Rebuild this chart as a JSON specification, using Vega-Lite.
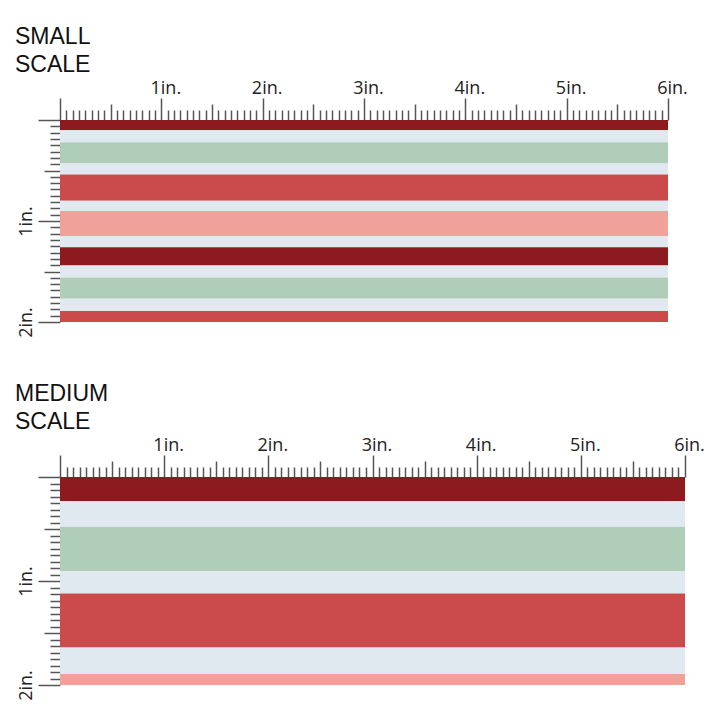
{
  "$schema": "https://vega.github.io/schema/vega-lite/v6.json",
  "background": "white",
  "padding": {"left": 15, "top": 26, "right": 5, "bottom": 5},
  "spacing": 45,
  "config": {
    "view": {"stroke": null},
    "title": {"anchor": "start", "frame": "bounds", "font": "Liberation Sans", "fontSize": 23, "fontWeight": "normal", "lineHeight": 28, "offset": 2, "dx": -2, "color": "#111"},
    "axis": {"domain": false, "grid": false, "title": null, "tickColor": "#555", "tickWidth": 1.5,
      "tickSize": {"condition": [{"test": "datum.value % 1 === 0", "value": 22}, {"test": "datum.value % 0.5 === 0", "value": 16}], "value": 10},
      "labelExpr": "datum.value % 1 === 0 && datum.value > 0 ? datum.value + 'in.' : ''",
      "labelFont": "Open Sans", "labelFontSize": 18, "labelColor": "#222", "labelOverlap": false, "labelFlush": false, "labelBound": false, "labelPadding": 1}
  },
  "datasets": {
    "small": [
      {"start": 0, "end": 0.101, "stripe": "dark red"},
      {"start": 0.101, "end": 0.22, "stripe": "light blue"},
      {"start": 0.22, "end": 0.43, "stripe": "green"},
      {"start": 0.43, "end": 0.54, "stripe": "light blue"},
      {"start": 0.54, "end": 0.80, "stripe": "red"},
      {"start": 0.80, "end": 0.90, "stripe": "light blue"},
      {"start": 0.90, "end": 1.15, "stripe": "pink"},
      {"start": 1.15, "end": 1.26, "stripe": "light blue"},
      {"start": 1.26, "end": 1.44, "stripe": "dark red"},
      {"start": 1.44, "end": 1.56, "stripe": "light blue"},
      {"start": 1.56, "end": 1.77, "stripe": "green"},
      {"start": 1.77, "end": 1.89, "stripe": "light blue"},
      {"start": 1.89, "end": 2.0, "stripe": "red"}
    ],
    "medium": [
      {"start": 0, "end": 0.233, "stripe": "dark red"},
      {"start": 0.233, "end": 0.479, "stripe": "light blue"},
      {"start": 0.479, "end": 0.904, "stripe": "green"},
      {"start": 0.904, "end": 1.121, "stripe": "light blue"},
      {"start": 1.121, "end": 1.64, "stripe": "red"},
      {"start": 1.64, "end": 1.895, "stripe": "light blue"},
      {"start": 1.895, "end": 2.0, "stripe": "pink"}
    ]
  },
  "vconcat": [
    {
      "title": {"text": ["SMALL", "SCALE"]},
      "width": 608,
      "height": 202,
      "data": {"name": "small"},
      "mark": {"type": "rect"},
      "encoding": {
        "x": {"datum": 0, "type": "quantitative", "scale": {"domain": [0, 6], "nice": false, "zero": false},
          "axis": {"orient": "top", "labelOffset": 4, "values": [0,0.0625,0.125,0.1875,0.25,0.3125,0.375,0.4375,0.5,0.5625,0.625,0.6875,0.75,0.8125,0.875,0.9375,1,1.0625,1.125,1.1875,1.25,1.3125,1.375,1.4375,1.5,1.5625,1.625,1.6875,1.75,1.8125,1.875,1.9375,2,2.0625,2.125,2.1875,2.25,2.3125,2.375,2.4375,2.5,2.5625,2.625,2.6875,2.75,2.8125,2.875,2.9375,3,3.0625,3.125,3.1875,3.25,3.3125,3.375,3.4375,3.5,3.5625,3.625,3.6875,3.75,3.8125,3.875,3.9375,4,4.0625,4.125,4.1875,4.25,4.3125,4.375,4.4375,4.5,4.5625,4.625,4.6875,4.75,4.8125,4.875,4.9375,5,5.0625,5.125,5.1875,5.25,5.3125,5.375,5.4375,5.5,5.5625,5.625,5.6875,5.75,5.8125,5.875,5.9375,6]}},
        "x2": {"datum": 6},
        "y": {"field": "start", "type": "quantitative", "scale": {"domain": [0, 2], "reverse": true, "nice": false, "zero": false},
          "axis": {"orient": "left", "labelAngle": 270, "labelAlign": "center", "labelBaseline": "bottom", "labelPadding": 3, "values": [0,0.0625,0.125,0.1875,0.25,0.3125,0.375,0.4375,0.5,0.5625,0.625,0.6875,0.75,0.8125,0.875,0.9375,1,1.0625,1.125,1.1875,1.25,1.3125,1.375,1.4375,1.5,1.5625,1.625,1.6875,1.75,1.8125,1.875,1.9375,2]}},
        "y2": {"field": "end"},
        "color": {"field": "stripe", "type": "nominal", "legend": null,
          "scale": {"domain": ["dark red", "light blue", "green", "red", "pink"], "range": ["#8d1a1e", "#dfe9ef", "#b0cdb9", "#cb4a4c", "#f0a29a"]}}
      }
    },
    {
      "title": {"text": ["MEDIUM", "SCALE"]},
      "width": 625,
      "height": 208,
      "data": {"name": "medium"},
      "mark": {"type": "rect"},
      "encoding": {
        "x": {"datum": 0, "type": "quantitative", "scale": {"domain": [0, 6], "nice": false, "zero": false},
          "axis": {"orient": "top", "labelOffset": 4, "values": [0,0.0625,0.125,0.1875,0.25,0.3125,0.375,0.4375,0.5,0.5625,0.625,0.6875,0.75,0.8125,0.875,0.9375,1,1.0625,1.125,1.1875,1.25,1.3125,1.375,1.4375,1.5,1.5625,1.625,1.6875,1.75,1.8125,1.875,1.9375,2,2.0625,2.125,2.1875,2.25,2.3125,2.375,2.4375,2.5,2.5625,2.625,2.6875,2.75,2.8125,2.875,2.9375,3,3.0625,3.125,3.1875,3.25,3.3125,3.375,3.4375,3.5,3.5625,3.625,3.6875,3.75,3.8125,3.875,3.9375,4,4.0625,4.125,4.1875,4.25,4.3125,4.375,4.4375,4.5,4.5625,4.625,4.6875,4.75,4.8125,4.875,4.9375,5,5.0625,5.125,5.1875,5.25,5.3125,5.375,5.4375,5.5,5.5625,5.625,5.6875,5.75,5.8125,5.875,5.9375,6]}},
        "x2": {"datum": 6},
        "y": {"field": "start", "type": "quantitative", "scale": {"domain": [0, 2], "reverse": true, "nice": false, "zero": false},
          "axis": {"orient": "left", "labelAngle": 270, "labelAlign": "center", "labelBaseline": "bottom", "labelPadding": 3, "values": [0,0.0625,0.125,0.1875,0.25,0.3125,0.375,0.4375,0.5,0.5625,0.625,0.6875,0.75,0.8125,0.875,0.9375,1,1.0625,1.125,1.1875,1.25,1.3125,1.375,1.4375,1.5,1.5625,1.625,1.6875,1.75,1.8125,1.875,1.9375,2]}},
        "y2": {"field": "end"},
        "color": {"field": "stripe", "type": "nominal", "legend": null,
          "scale": {"domain": ["dark red", "light blue", "green", "red", "pink"], "range": ["#8d1a1e", "#dfe9ef", "#b0cdb9", "#cb4a4c", "#f0a29a"]}}
      }
    }
  ]
}
